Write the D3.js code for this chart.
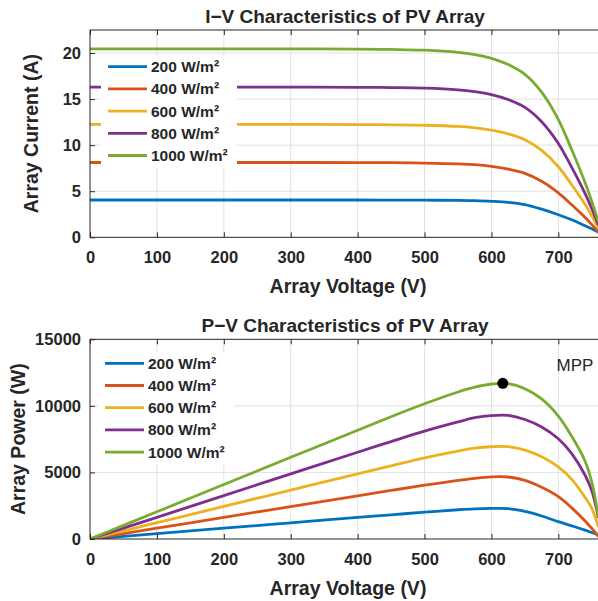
<!DOCTYPE html>
<html>
<head>
<meta charset="utf-8">
<script src="https://cdnjs.cloudflare.com/ajax/libs/d3/7.8.5/d3.min.js"></script>
<style>
  body { margin: 0; background: #fff; }
  text { font-family: "Liberation Sans", Arial, sans-serif; fill: #262626; }
</style>
</head>
<body>
<div id="chart"></div>
<script>
// values
var voltage = [0, 100, 200, 300, 400, 450, 500, 550, 575, 600, 625, 650, 675, 700, 720, 740, 750, 760];

var irradiance = ["200 W/m²", "400 W/m²", "600 W/m²", "800 W/m²", "1000 W/m²"];

var current200  = [4.05, 4.05, 4.05, 4.05, 4.05, 4.04, 4.03, 4.00, 3.97, 3.91, 3.80, 3.55, 3.05, 2.45, 1.90, 1.25, 0.92, 0.55];
var current400  = [8.12, 8.12, 8.12, 8.12, 8.11, 8.10, 8.06, 7.97, 7.88, 7.70, 7.39, 6.94, 6.09, 4.83, 3.53, 2.15, 1.38, 0.57];
var current600  = [12.25, 12.25, 12.25, 12.25, 12.24, 12.21, 12.16, 12.03, 11.88, 11.64, 11.23, 10.60, 9.43, 7.66, 5.70, 3.55, 2.33, 0.98];
var current800  = [16.30, 16.30, 16.30, 16.30, 16.28, 16.25, 16.19, 16.01, 15.81, 15.49, 14.95, 14.10, 12.55, 10.19, 7.58, 4.73, 3.10, 1.30];
var current1000 = [20.45, 20.45, 20.45, 20.45, 20.43, 20.39, 20.31, 20.08, 19.84, 19.43, 18.75, 17.69, 15.75, 12.78, 9.51, 5.93, 3.89, 1.64];

var power200  = [0, 405, 810, 1215, 1618, 1818, 2013, 2198, 2268, 2295, 2283, 2075, 1730, 1303, 992, 669, 484, 300];
var power400  = [0, 812, 1624, 2436, 3246, 3648, 4040, 4400, 4560, 4670, 4657, 4399, 3884, 3182, 2340, 1357, 796, 187];
var power600  = [0, 1225, 2450, 3675, 4897, 5500, 6090, 6600, 6820, 6929, 6936, 6672, 6186, 5421, 4483, 3128, 2294, 904];
var power800  = [0, 1630, 3260, 4890, 6515, 7320, 8100, 8790, 9110, 9272, 9281, 8975, 8417, 7533, 6417, 4790, 3627, 1581];
var power1000 = [0, 2045, 4090, 6135, 8170, 9185, 10155, 11040, 11400, 11643, 11667, 11281, 10521, 9235, 7715, 5845, 4267, 1637];

var voltageTicks = [0, 100, 200, 300, 400, 500, 600, 700];
var currentTicks = [0, 5, 10, 15, 20];
var powerTicks = [0, 5000, 10000, 15000];

var mppVoltage = 617, mppPower = 11690;

var colors = ["#0072BD", "#D95319", "#EDB120", "#7E2F8E", "#77AC30"];

var svg = d3.select("#chart")
    .append("svg")
    .attr("width", 598)
    .attr("height", 601);

///////////////////////////////////////////////////////////////////////////
//////////////////////////// one panel ////////////////////////////////////
///////////////////////////////////////////////////////////////////////////

function drawPanel(p) {
    var x = d3.scaleLinear().domain([0, 760]).range([90, 598.5]);
    var y = d3.scaleLinear().domain(p.yDomain).range([p.bottom, p.top]);

    var g = svg.append("g");
    var clipId = "clip" + p.id;

    g.append("clipPath").attr("id", clipId)
        .append("rect")
        .attr("x", 90).attr("y", p.top)
        .attr("width", 508.5).attr("height", p.bottom - p.top);

    //grid
    g.selectAll(".vgrid")
        .data(voltageTicks.slice(1))
        .enter().append("line")
        .attr("x1", function(d) { return x(d); })
        .attr("x2", function(d) { return x(d); })
        .attr("y1", p.top).attr("y2", p.bottom)
        .style("stroke", "#e1e1e1").style("stroke-width", 1);

    g.selectAll(".hgrid")
        .data(p.yTicks.slice(1, -1).concat(p.extraGrid || []))
        .enter().append("line")
        .attr("x1", 90).attr("x2", 598.5)
        .attr("y1", function(d) { return y(d); })
        .attr("y2", function(d) { return y(d); })
        .style("stroke", "#e1e1e1").style("stroke-width", 1);

    //curves
    var line = d3.line()
        .x(function(d, i) { return x(voltage[i]); })
        .y(function(d) { return y(d); })
        .curve(d3.curveCatmullRom.alpha(0.5));

    g.append("g")
        .attr("clip-path", "url(#" + clipId + ")")
        .selectAll(".curve")
        .data(p.series)
        .enter().append("path")
        .attr("d", line)
        .style("fill", "none")
        .style("stroke", function(d, i) { return colors[i]; })
        .style("stroke-width", 2.8);

    //box
    g.append("rect")
        .attr("x", 90).attr("y", p.top)
        .attr("width", 508.5).attr("height", p.bottom - p.top)
        .style("fill", "none").style("stroke", "#262626").style("stroke-width", 1);

    //axes, ticks pointing inward
    var xAxis = d3.axisBottom(x).tickValues(voltageTicks).tickSizeInner(-5).tickSizeOuter(0).tickPadding(14);
    var xAxisTop = d3.axisTop(x).tickValues(voltageTicks).tickSizeInner(-5).tickSizeOuter(0).tickFormat("");
    var yAxis = d3.axisLeft(y).tickValues(p.yTicks).tickSizeInner(-5).tickSizeOuter(0).tickPadding(9)
        .tickFormat(d3.format("d"));

    var ax = g.append("g").attr("transform", "translate(0," + p.bottom + ")").call(xAxis);
    var axT = g.append("g").attr("transform", "translate(0," + p.top + ")").call(xAxisTop);
    var ay = g.append("g").attr("transform", "translate(90,0)").call(yAxis);

    [ax, axT, ay].forEach(function(a) {
        a.select(".domain").remove();
        a.selectAll("line").style("stroke", "#262626");
        a.selectAll("text")
            .style("font-size", "16.5px")
            .style("font-weight", "bold")
            .style("fill", "#262626");
    });

    //legend with white background
    var leg = g.append("g");
    leg.append("rect")
        .attr("x", p.legX - 7).attr("y", p.legY - 11)
        .attr("width", 136).attr("height", 22.2 * 5 + 1)
        .style("fill", "#fff");

    var rows = leg.selectAll(".row")
        .data(irradiance)
        .enter().append("g")
        .attr("transform", function(d, i) { return "translate(" + p.legX + "," + (p.legY + i * 22.2) + ")"; });

    rows.append("line")
        .attr("x1", 0).attr("x2", 39)
        .style("stroke", function(d, i) { return colors[i]; })
        .style("stroke-width", 2.8);

    rows.append("text")
        .attr("x", 43).attr("y", 5.5)
        .style("font-size", "15.5px")
        .style("font-weight", "bold")
        .text(function(d) { return d; });

    //titles
    g.append("text")
        .attr("x", 345).attr("y", p.top - 7)
        .style("text-anchor", "middle")
        .style("font-size", "19px")
        .style("font-weight", "bold")
        .text(p.title);

    g.append("text")
        .attr("x", 348).attr("y", p.bottom + 56)
        .style("text-anchor", "middle")
        .style("font-size", "19.5px")
        .style("font-weight", "bold")
        .text("Array Voltage (V)");

    g.append("text")
        .attr("transform", "translate(" + p.yLabelX + "," + ((p.top + p.bottom) / 2) + ") rotate(-90)")
        .style("text-anchor", "middle")
        .style("font-size", "19.5px")
        .style("font-weight", "bold")
        .text(p.yLabel);

    return { x: x, y: y, g: g };
}

drawPanel({
    id: 1, top: 30, bottom: 237.3, yDomain: [0, 22.5], yTicks: currentTicks,
    extraGrid: [20], series: [current200, current400, current600, current800, current1000],
    title: "I\u2212V Characteristics of PV Array", yLabel: "Array Current (A)",
    yLabelX: 38, legX: 108, legY: 66.7
});

var pv = drawPanel({
    id: 2, top: 339.3, bottom: 539, yDomain: [0, 15000], yTicks: powerTicks,
    series: [power200, power400, power600, power800, power1000],
    title: "P\u2212V Characteristics of PV Array", yLabel: "Array Power (W)",
    yLabelX: 25, legX: 105, legY: 363.3
});

//maximum power point
pv.g.append("circle")
    .attr("cx", pv.x(mppVoltage))
    .attr("cy", pv.y(mppPower))
    .attr("r", 5.5)
    .style("fill", "#000");

pv.g.append("text")
    .attr("x", 575).attr("y", 371)
    .style("text-anchor", "middle")
    .style("font-size", "17px")
    .text("MPP");
</script>
</body>
</html>
